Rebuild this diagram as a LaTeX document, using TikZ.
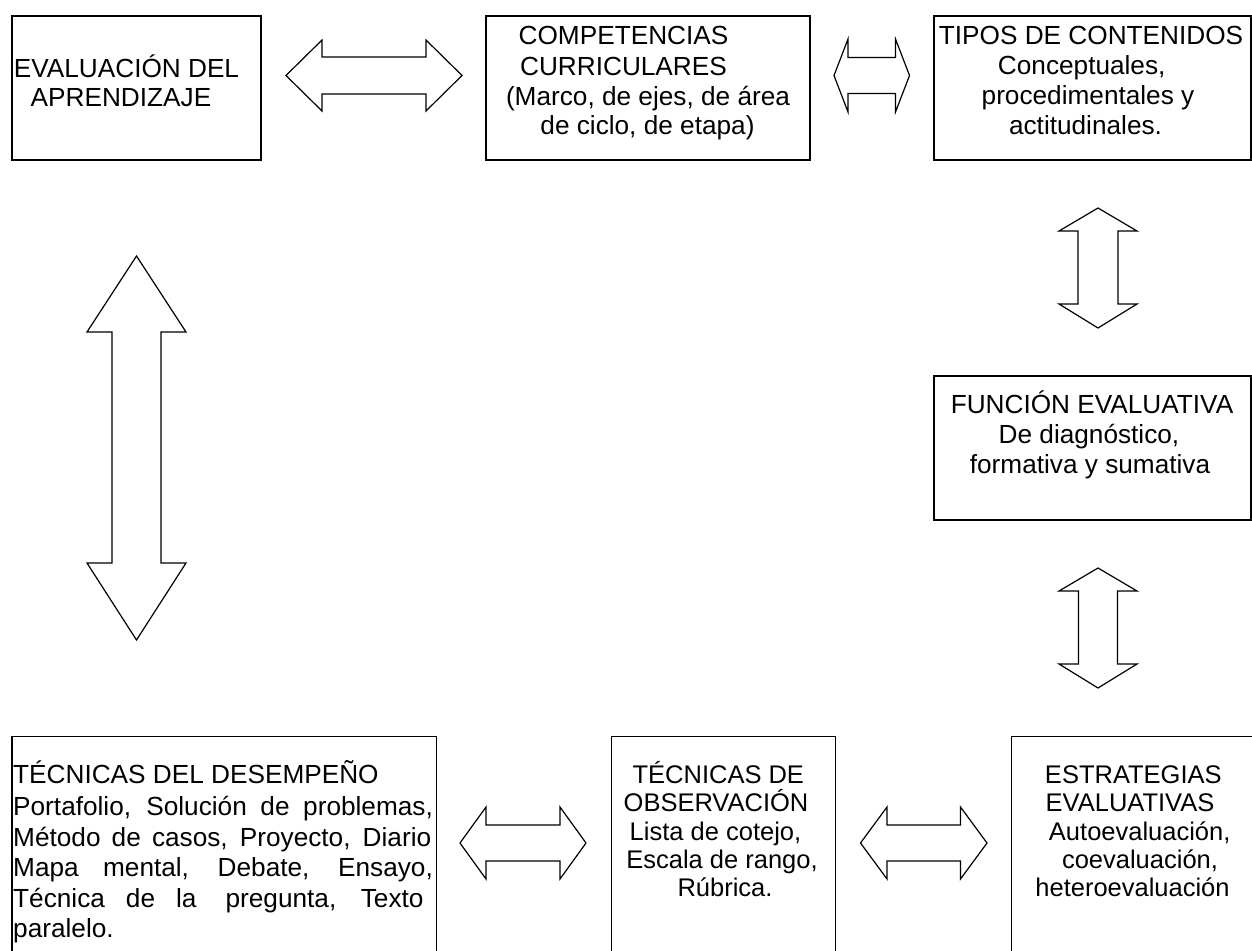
\documentclass[tikz,border=0pt]{standalone}
\usepackage{fontspec}
\setmainfont{Liberation Sans}
\newcommand\myharrow[7]{\draw[blockarrow] (#1,#5) -- (#3,#5-#6) -- (#3,#5-#7) -- (#4,#5-#7) -- (#4,#5-#6) -- (#2,#5) -- (#4,#5+#6) -- (#4,#5+#7) -- (#3,#5+#7) -- (#3,#5+#6) -- cycle;}
\newcommand\myvarrow[7]{\draw[blockarrow] (#5,#1) -- (#5+#6,#3) -- (#5+#7,#3) -- (#5+#7,#4) -- (#5+#6,#4) -- (#5,#2) -- (#5-#6,#4) -- (#5-#7,#4) -- (#5-#7,#3) -- (#5-#6,#3) -- cycle;}
\begin{document}
\begin{tikzpicture}[x=1pt,y=-1pt,
  box/.style={draw, line width=1.2pt, rectangle, inner sep=0pt},
  txt/.style={inner sep=0pt, font=\fontsize{25.5}{30}\selectfont},
  txtl/.style={inner sep=0pt, font=\fontsize{26.2}{30}\selectfont},
  blockarrow/.style={draw, line width=1.2pt, fill=white, line join=miter}]
\useasboundingbox (0,0) rectangle (1252,950);
\fill[white] (0,0) rectangle (1252,950);
\clip (0,0) rectangle (1252,950);
% boxes
\node[box, minimum width=249pt, minimum height=144pt] (b1) at (136.5,88) {};
\node[box, minimum width=324pt, minimum height=144pt] (b2) at (648,88) {};
\node[box, minimum width=317pt, minimum height=144pt] (b3) at (1092.5,88) {};
\node[box, minimum width=317pt, minimum height=144pt] (b4) at (1092.5,448) {};
\node[box, minimum width=424.5pt, minimum height=233.5pt] (b5) at (224.25,853.25) {};
\node[box, minimum width=223.6pt, minimum height=233.5pt] (b6) at (723.5,853.25) {};
\node[box, minimum width=258.3pt, minimum height=233.5pt] (b7) at (1140.85,853.25) {};
% texts box 1
\node[txtl, anchor=base] (t1a) at (126.5,77.7) {EVALUACIÓN DEL};
\node[txtl, anchor=base] (t1b) at (121,106.7) {APRENDIZAJE};
% box 2
\node[txtl, anchor=base] (t2a) at (623.5,45) {COMPETENCIAS};
\node[txtl, anchor=base] (t2b) at (623.5,75) {CURRICULARES};
\node[txtl, anchor=base] (t2c) at (648,105) {(Marco, de ejes, de área};
\node[txtl, anchor=base] (t2d) at (647.5,134) {de ciclo, de etapa)};
% box 3
\node[txtl, anchor=base] (t3a) at (1091,44.3) {TIPOS DE CONTENIDOS};
\node[txtl, anchor=base] (t3b) at (1081.7,74.3) {Conceptuales,};
\node[txtl, anchor=base] (t3c) at (1088,104.3) {procedimentales y};
\node[txtl, anchor=base] (t3d) at (1085.5,134.3) {actitudinales.};
% box 4
\node[txtl, anchor=base] (t4a) at (1092,413) {FUNCIÓN EVALUATIVA};
\node[txtl, anchor=base] (t4b) at (1089,443) {De diagnóstico,};
\node[txtl, anchor=base] (t4c) at (1090,473) {formativa y sumativa};
% box 5
\node[txtl, anchor=base west] (t5a) at (13,783.3) {TÉCNICAS DEL DESEMPEÑO};
\node[txtl, anchor=base west] (t5b) at (13,815) {\makebox[419.7pt][s]{Portafolio, Solución de problemas,}};
\node[txtl, anchor=base west] (t5c) at (13,846) {\makebox[418pt][s]{Método de casos, Proyecto, Diario}};
\node[txtl, anchor=base west] (t5d) at (13,876.7) {\makebox[419.7pt][s]{Mapa mental, Debate, Ensayo,}};
\node[txtl, anchor=base west] (t5e) at (13,907.3) {\makebox[410.3pt][s]{Técnica de la\hspace{8pt} pregunta, Texto}};
\node[txtl, anchor=base west] (t5f) at (13,937.3) {paralelo.};
% box 6
\node[txt, anchor=base] (t6a) at (718.3,783.3) {TÉCNICAS DE};
\node[txt, anchor=base] (t6b) at (716,811.7) {OBSERVACIÓN};
\node[txt, anchor=base] (t6c) at (715.5,840) {Lista de cotejo,};
\node[txt, anchor=base] (t6d) at (722,868.3) {Escala de rango,};
\node[txt, anchor=base] (t6e) at (725,896.7) {Rúbrica.};
% box 7
\node[txt, anchor=base] (t7a) at (1133.3,783) {ESTRATEGIAS};
\node[txt, anchor=base] (t7b) at (1130,811.7) {EVALUATIVAS};
\node[txt, anchor=base] (t7c) at (1139.7,840) {Autoevaluación,};
\node[txt, anchor=base] (t7d) at (1140,868) {coevaluación,};
\node[txt, anchor=base] (t7e) at (1132.5,896.7) {heteroevaluación};
% block arrows
\myharrow{286}{462}{322}{426}{75.5}{35.5}{18.5}
\myharrow{834}{909.5}{848}{895.5}{75.5}{36.5}{18}
\myvarrow{208}{328}{231}{304}{1098}{39}{20}
\myvarrow{568}{688}{591}{664}{1098}{39}{19.5}
\myvarrow{256}{640}{332}{563}{136.5}{49.5}{24.5}
\myharrow{460}{586}{486}{560}{843}{36}{18}
\myharrow{860.5}{987}{887}{960.5}{843}{36}{18}
\end{tikzpicture}
\end{document}
